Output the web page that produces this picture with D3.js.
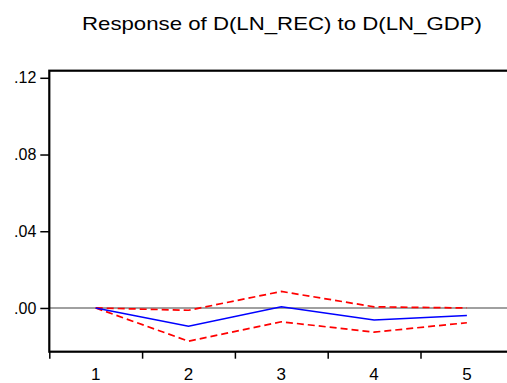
<!DOCTYPE html>
<html>
<head>
<meta charset="utf-8">
<script src="https://cdn.jsdelivr.net/npm/d3@7"></script>
<style>
  html, body { margin: 0; padding: 0; background: #fff; }
  svg { display: block; font-family: Arial, "Liberation Sans", sans-serif; }
</style>
</head>
<body>
<div id="chart"></div>
<script>
// Impulse response data
const periods = [1, 2, 3, 4, 5];
const response = [0.0, -0.0095, 0.0006, -0.0063, -0.0039];
const upperBand = [0.0, -0.0012, 0.0086, 0.0006, 0.0000];
const lowerBand = [0.0, -0.0173, -0.0072, -0.0126, -0.0077];
const yTicks = [0.00, 0.04, 0.08, 0.12];
const titleText = 'Response of D(LN_REC) to D(LN_GDP)';

const width = 507;
const height = 383;
const plot = { left: 49.3, top: 70.7, bottom: 351.7, right: 513.3 };

const svg = d3.select('#chart')
    .append('svg')
    .attr('width', width)
    .attr('height', height);

const x = d3.scaleLinear()
    .domain([0.5, 5.5])
    .range([plot.left, plot.right]);

const y = d3.scaleLinear()
    .domain([-0.0228, 0.1237])
    .range([plot.bottom, plot.top]);

// title
svg.append('text')
    .attr('x', 282)
    .attr('y', 30)
    .attr('text-anchor', 'middle')
    .attr('textLength', 400)
    .attr('lengthAdjust', 'spacingAndGlyphs')
    .style('font-size', '19px')
    .text(titleText);

// zero line
svg.append('line')
    .attr('x1', plot.left).attr('x2', plot.right)
    .attr('y1', y(0)).attr('y2', y(0))
    .attr('stroke', '#808080')
    .attr('stroke-width', 1.5);

// frame
svg.append('rect')
    .attr('x', plot.left)
    .attr('y', plot.top)
    .attr('width', plot.right - plot.left)
    .attr('height', plot.bottom - plot.top)
    .attr('fill', 'none')
    .attr('stroke', '#000')
    .attr('stroke-width', 2.2);

// y axis
const yAxis = d3.axisLeft(y)
    .tickValues(yTicks)
    .tickSize(9)
    .tickPadding(4)
    .tickFormat(d => d3.format('.2f')(d).replace(/^0/, ''));

svg.append('g')
    .attr('transform', `translate(${plot.left},0)`)
    .call(yAxis)
    .call(g => g.select('.domain').remove())
    .call(g => g.selectAll('line').attr('stroke', '#000').attr('stroke-width', 1.5))
    .call(g => g.selectAll('text')
        .attr('fill', '#000')
        .style('font-size', '16px')
        .style('font-family', 'Arial, "Liberation Sans", sans-serif'));

// x axis: ticks between periods, labels centred on periods
const xAxis = d3.axisBottom(x)
    .tickValues([0.5, 1.5, 2.5, 3.5, 4.5])
    .tickSize(7)
    .tickFormat('');

svg.append('g')
    .attr('transform', `translate(0,${plot.bottom})`)
    .call(xAxis)
    .call(g => g.select('.domain').remove())
    .call(g => g.selectAll('line').attr('stroke', '#000').attr('stroke-width', 1.5));

svg.append('g')
    .selectAll('text')
    .data(periods)
    .join('text')
    .attr('x', d => x(d))
    .attr('y', 380)
    .attr('text-anchor', 'middle')
    .style('font-size', '17px')
    .text(d => d);

// series
const line = d3.line()
    .x((d, i) => x(periods[i]))
    .y(d => y(d));

svg.append('path')
    .datum(upperBand)
    .attr('d', line)
    .attr('fill', 'none')
    .attr('stroke', '#ff0000')
    .attr('stroke-width', 1.7)
    .attr('stroke-dasharray', '7,4');

svg.append('path')
    .datum(lowerBand)
    .attr('d', line)
    .attr('fill', 'none')
    .attr('stroke', '#ff0000')
    .attr('stroke-width', 1.7)
    .attr('stroke-dasharray', '7,4');

svg.append('path')
    .datum(response)
    .attr('d', line)
    .attr('fill', 'none')
    .attr('stroke', '#0000ff')
    .attr('stroke-width', 1.6);
</script>
</body>
</html>
